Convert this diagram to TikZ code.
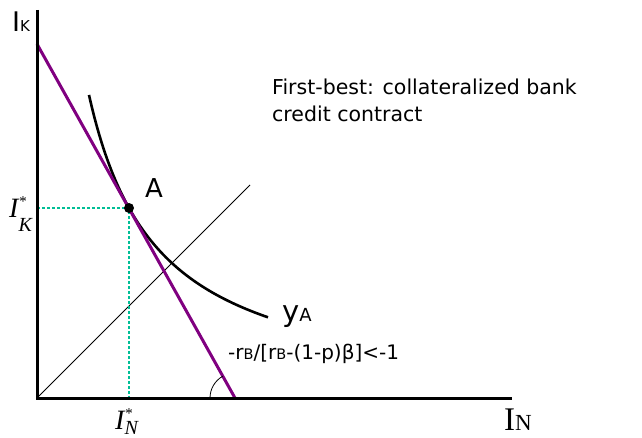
\documentclass[tikz,border=0pt]{standalone}
\usepackage{fontspec}
\setmainfont{DejaVu Sans}
\newfontfamily\tnr{Liberation Serif}
\definecolor{lpurple}{RGB}{128,0,128}
\definecolor{dteal}{RGB}{0,190,150}
\newcommand\starlbl[2]{{\tnr\itshape\fontsize{28}{28}\selectfont I\rlap{\raisebox{11pt}{\fontsize{15}{15}\selectfont *}}\raisebox{-#1}{\fontsize{20}{20}\selectfont #2}}}
\begin{document}
\begin{tikzpicture}[x=1pt,y=1pt,
  axisline/.style={line width=3pt, line join=miter},
  budget/.style={line width=3pt, draw=lpurple},
  indiff/.style={line width=2.6pt},
  guide/.style={line width=1.2pt, draw=dteal, dash pattern=on 3pt off 2pt},
  diag/.style={line width=0.9pt},
  lbl/.style={inner sep=0pt, anchor=base west}]
\useasboundingbox (0,0) rectangle (642,437);
\coordinate (O) at (37,39);
\coordinate (Ytop) at (37,427);
\coordinate (Xend) at (512,39);
\coordinate (A) at (129,229);
\coordinate (P1) at (37,393);
\coordinate (P2) at (235,39);
\coordinate (D) at (250,252);
\draw[diag] (O) -- (D);
\draw[guide] (O|-A) -- (A) -- (A|-O);
\draw[indiff] plot[domain=89:268,samples=120] (\x,{34+212.55/((\x-20)/100)});
\draw[budget] (P1) -- (P2);
\fill (A) circle (5);
\draw[line width=0.8pt] (P2) ++(180:25) arc (180:119.2:25);
\draw[axisline] (Ytop) -- (O) -- (Xend);
% labels
\node[lbl] (IK) at (12,405) {\fontsize{27}{27}\selectfont I\fontsize{15}{15}\selectfont K};
\node[lbl] (text1) at (272,342) {\fontsize{20.5}{27}\selectfont First-best: collateralized bank};
\node[lbl] (text2) at (272,315) {\fontsize{20.5}{27}\selectfont credit contract};
\node[lbl] (Alab) at (145,240) {\fontsize{26}{26}\selectfont A};
\node[lbl] (yA) at (282,116) {\fontsize{29}{29}\selectfont y\fontsize{18}{18}\selectfont A};
\node[lbl] (slope) at (228,78) {\fontsize{20}{20}\selectfont -r{\fontsize{14.5}{14.5}\selectfont B}/[r{\fontsize{14.5}{14.5}\selectfont B}-(1-p)β]<-1};
\node[lbl] (IKs) at (9,219) {\starlbl{13pt}{K}};
\node[lbl] (INs) at (115,8) {\starlbl{5pt}{N}};
\node[lbl] (IN) at (504,7) {\tnr\fontsize{33}{33}\selectfont I\fontsize{23}{23}\selectfont N};
\end{tikzpicture}
\end{document}
